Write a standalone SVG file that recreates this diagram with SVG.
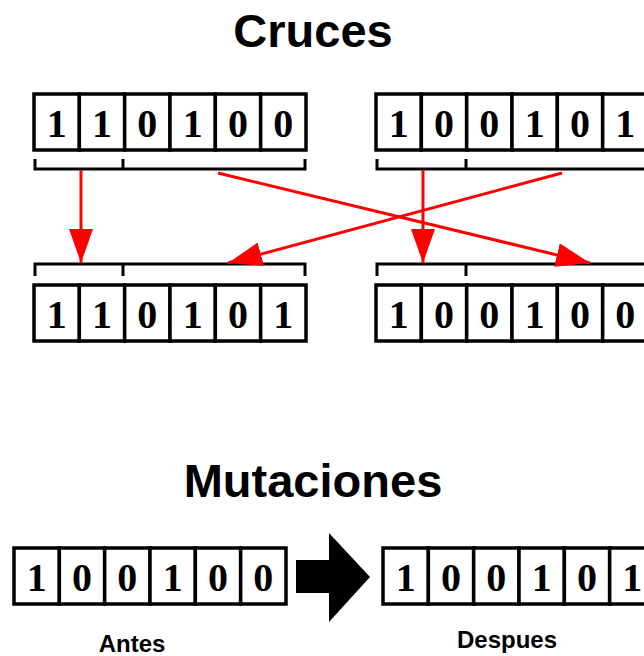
<svg xmlns="http://www.w3.org/2000/svg" width="644" height="656" viewBox="0 0 644 656">
  <defs>
    <style>
      .title { font-family: "Liberation Sans", Arial, sans-serif; font-weight: bold; font-size: 47px; fill: #000; text-anchor: middle; }
      .label { font-family: "Liberation Sans", Arial, sans-serif; font-weight: bold; font-size: 24px; fill: #000; text-anchor: middle; }
      .cell { fill: #fff; stroke: #000; stroke-width: 3.5; }
      .bit { font-family: "Liberation Serif", "Times New Roman", serif; font-weight: bold; font-size: 40px; fill: #000; text-anchor: middle; }
      .bracket { fill: none; stroke: #000; stroke-width: 3; }
      .link { fill: none; stroke: #f00; stroke-width: 3; marker-end: url(#head); }
    </style>
    <marker id="head" markerUnits="userSpaceOnUse" markerWidth="34" markerHeight="24" refX="34" refY="12" orient="auto" viewBox="0 0 34 24">
      <path d="M0,0 L34,12 L0,24 Z" fill="#f00"/>
    </marker>
    <!-- one six-bit register: cells of 45.33 px -->
    <g id="cells">
      <rect class="cell" x="0" y="0" width="45.33" height="56"/>
      <rect class="cell" x="45.33" y="0" width="45.33" height="56"/>
      <rect class="cell" x="90.67" y="0" width="45.33" height="56"/>
      <rect class="cell" x="136" y="0" width="45.33" height="56"/>
      <rect class="cell" x="181.33" y="0" width="45.33" height="56"/>
      <rect class="cell" x="226.67" y="0" width="45.33" height="56"/>
    </g>
  </defs>

  <rect width="644" height="656" fill="#fff"/>

  <g id="title-cruces"><text class="title" x="313" y="47">Cruces</text></g>

  <g id="parent-a" transform="translate(34,94)">
    <use href="#cells"/>
    <text class="bit" x="22.7" y="43">1</text>
    <text class="bit" x="68" y="43">1</text>
    <text class="bit" x="113.3" y="43">0</text>
    <text class="bit" x="158.7" y="43">1</text>
    <text class="bit" x="204" y="43">0</text>
    <text class="bit" x="249.3" y="43">0</text>
  </g>

  <g id="parent-b" transform="translate(376,94)">
    <use href="#cells"/>
    <text class="bit" x="22.7" y="43">1</text>
    <text class="bit" x="68" y="43">0</text>
    <text class="bit" x="113.3" y="43">0</text>
    <text class="bit" x="158.7" y="43">1</text>
    <text class="bit" x="204" y="43">0</text>
    <text class="bit" x="249.3" y="43">1</text>
  </g>

  <g id="brackets">
    <path class="bracket" d="M35,159 V169 H305 V159 M123,159 V169"/>
    <path class="bracket" d="M377,159 V169 H647 V159 M466,159 V169"/>
    <path class="bracket" d="M35,276 V264 H305 V276 M123,276 V264"/>
    <path class="bracket" d="M377,276 V264 H647 V276 M466,276 V264"/>
  </g>

  <g id="connectors">
    <line class="link" x1="81" y1="170" x2="81" y2="263"/>
    <line class="link" x1="423" y1="170" x2="423" y2="263"/>
    <line class="link" x1="218" y1="173" x2="590" y2="263"/>
    <line class="link" x1="562" y1="173" x2="228" y2="263"/>
  </g>

  <g id="child-a" transform="translate(34,285)">
    <use href="#cells"/>
    <text class="bit" x="22.7" y="43">1</text>
    <text class="bit" x="68" y="43">1</text>
    <text class="bit" x="113.3" y="43">0</text>
    <text class="bit" x="158.7" y="43">1</text>
    <text class="bit" x="204" y="43">0</text>
    <text class="bit" x="249.3" y="43">1</text>
  </g>

  <g id="child-b" transform="translate(376,285)">
    <use href="#cells"/>
    <text class="bit" x="22.7" y="43">1</text>
    <text class="bit" x="68" y="43">0</text>
    <text class="bit" x="113.3" y="43">0</text>
    <text class="bit" x="158.7" y="43">1</text>
    <text class="bit" x="204" y="43">0</text>
    <text class="bit" x="249.3" y="43">0</text>
  </g>

  <g id="title-mutaciones"><text class="title" x="313" y="497">Mutaciones</text></g>

  <g id="before" transform="translate(14,548)">
    <use href="#cells"/>
    <text class="bit" x="22.7" y="43">1</text>
    <text class="bit" x="68" y="43">0</text>
    <text class="bit" x="113.3" y="43">0</text>
    <text class="bit" x="158.7" y="43">1</text>
    <text class="bit" x="204" y="43">0</text>
    <text class="bit" x="249.3" y="43">0</text>
  </g>

  <g id="mutation-arrow">
    <path d="M296,560 H329 V533 L370,577 L329,622 V593 H296 Z" fill="#000"/>
  </g>

  <g id="after" transform="translate(383,548)">
    <use href="#cells"/>
    <text class="bit" x="22.7" y="43">1</text>
    <text class="bit" x="68" y="43">0</text>
    <text class="bit" x="113.3" y="43">0</text>
    <text class="bit" x="158.7" y="43">1</text>
    <text class="bit" x="204" y="43">0</text>
    <text class="bit" x="249.3" y="43">1</text>
  </g>

  <g id="label-before"><text class="label" x="132" y="652">Antes</text></g>
  <g id="label-after"><text class="label" x="507" y="648">Despues</text></g>
</svg>
